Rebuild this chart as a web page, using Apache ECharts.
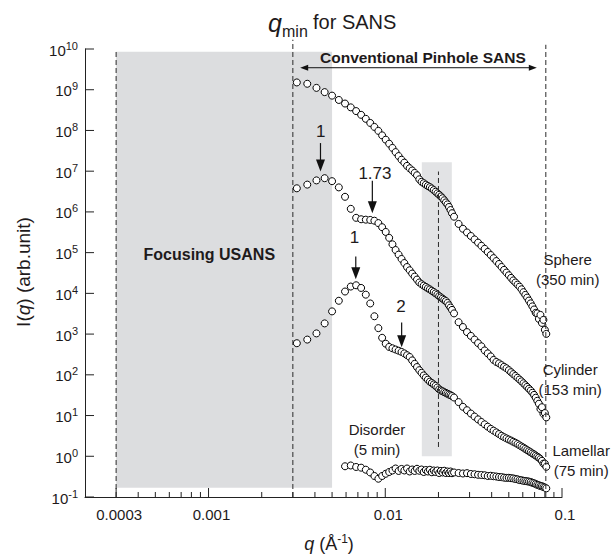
<!DOCTYPE html>
<html><head><meta charset="utf-8">
<script src="https://cdn.jsdelivr.net/npm/echarts@6/dist/echarts.min.js"></script>
<style>html,body{margin:0;padding:0;background:#fff}#c{width:612px;height:554px}</style>
</head><body><div id="c"></div>
<script>
// ---------- data (q in 1/Angstrom, I in arb. units) ----------
const qLow = [0.00316,0.00362,0.00408,0.00454,0.00500,0.00546,0.00592,0.00638,0.00684,0.00730,0.00776,0.00822,0.00868,0.00914,0.00960,0.01006,0.01052,0.01098,0.01144,0.01190,0.01236,0.01282,0.01328,0.01374,0.01420,0.01466,0.01512,0.01558,0.01604,0.01650,0.01696,0.01742,0.01788,0.01834,0.01880,0.01926,0.01972,0.02018,0.02064,0.02110,0.02156,0.02202,0.02248,0.02294,0.02340,0.02386];
const qHigh = [0.0245,0.0260,0.0275,0.0290,0.0305,0.0320,0.0335,0.0350,0.0365,0.0380,0.0395,0.0410,0.0425,0.0440,0.0455,0.0470,0.0485,0.0500,0.0515,0.0530,0.0545,0.0560,0.0575,0.0590,0.0605,0.0620,0.0635,0.0650,0.0665,0.0680,0.0695,0.0710,0.0725,0.0740,0.0755,0.0770,0.0785,0.0800,0.0815];

const sphereLow = [1.51e9,1.40e9,1.11e9,8.73e8,7.16e8,5.61e8,4.58e8,3.69e8,2.99e8,2.42e8,1.93e8,1.53e8,1.22e8,9.77e7,7.57e7,5.94e7,4.73e7,3.73e7,2.94e7,2.35e7,1.91e7,1.62e7,1.35e7,1.18e7,1.04e7,9.08e6,7.93e6,6.32e6,5.48e6,5.07e6,4.68e6,4.33e6,4.06e6,3.76e6,3.43e6,3.13e6,2.86e6,2.63e6,2.40e6,2.17e6,1.93e6,1.71e6,1.53e6,1.32e6,1.11e6,9.29e5];
const sphereHigh = [7.62e5,5.07e5,3.86e5,3.13e5,2.56e5,2.11e5,1.76e5,1.47e5,1.24e5,1.04e5,8.73e4,7.33e4,6.21e4,5.27e4,4.45e4,3.78e4,3.24e4,2.78e4,2.40e4,2.08e4,1.85e4,1.64e4,1.46e4,1.26e4,1.07e4,9.18e3,7.87e3,6.65e3,5.68e3,4.79e3,4.02e3,3.32e3,3.22e3,2.36e3,2.96e3,1.88e3,2.23e3,1.27e3,1.01e3];

const cylinderLow = [3.80e6,4.68e6,5.94e6,6.73e6,5.68e6,4.00e6,2.35e6,1.19e6,7.16e5,6.60e5,6.45e5,6.35e5,6.08e5,5.31e5,4.21e5,3.22e5,2.31e5,1.60e5,1.16e5,8.93e4,7.00e4,5.55e4,4.43e4,3.69e4,3.06e4,2.58e4,2.18e4,1.85e4,1.68e4,1.55e4,1.44e4,1.33e4,1.25e4,1.16e4,1.08e4,1.00e4,9.29e3,8.57e3,7.96e3,7.41e3,6.92e3,6.47e3,5.83e3,5.09e3,4.48e3,3.93e3];
const cylinderHigh = [3.22e3,1.96e3,1.49e3,1.12e3,9.02e2,7.33e2,6.01e2,5.01e2,3.97e2,3.36e2,2.83e2,2.32e2,2.07e2,1.91e2,1.73e2,1.58e2,1.45e2,1.30e2,1.16e2,1.04e2,94.0,84.7,76.6,69.2,62.1,55.8,50.4,45.5,41.1,36.3,32.1,27.4,23.0,19.5,14.5,16.0,11.0,11.5,9.0];

const lamellarLow = [5.97e2,7.33e2,1.04e3,1.83e3,3.61e3,6.58e3,1.11e4,1.47e4,1.58e4,1.36e4,9.29e3,5.65e3,2.74e3,1.40e3,8.11e2,5.81e2,4.84e2,4.48e2,4.18e2,3.91e2,3.65e2,3.36e2,3.03e2,2.74e2,2.26e2,1.86e2,1.55e2,1.30e2,1.12e2,96.6,85.7,76.2,68.1,62.8,58.1,53.6,48.8,44.0,41.3,39.5,37.6,35.9,34.3,32.8,31.6,30.1];
const lamellarHigh = [27.7,21.4,16.4,13.5,11.2,9.44,8.05,6.95,6.08,5.33,4.71,4.26,3.86,3.51,3.18,2.94,2.75,2.58,2.43,2.27,2.14,2.00,1.86,1.74,1.63,1.52,1.42,1.33,1.25,1.17,1.11,1.04,0.977,0.923,0.849,0.774,0.66,0.66,0.55];

const disorderLow = [null,null,null,null,null,null,0.568,0.594,0.546,0.525,0.468,0.400,0.328,0.281,0.328,0.372,0.411,0.448,0.501,0.436,0.488,0.448,0.501,0.423,0.473,0.436,0.493,0.441,0.473,0.411,0.460,0.423,0.466,0.405,0.448,0.411,0.448,0.388,0.436,0.400,0.441,0.388,0.423,0.388,0.423,0.384];
const disorderHigh = [0.400,0.388,0.378,0.385,0.367,0.362,0.351,0.347,0.342,0.328,0.332,0.324,0.318,0.310,0.308,0.299,0.294,0.296,0.290,0.286,0.277,0.272,0.261,0.258,0.250,0.247,0.243,0.239,0.233,0.223,0.217,0.208,0.199,0.194,0.186,0.184,0.176,0.171,0.163];

// axis ticks
const xMajorTicks = [0.0003, 0.001, 0.01, 0.1];
const xTickLabels = ['0.0003', '0.001', '0.01', '0.1'];
const xMinorTicks = [0.0004,0.0005,0.0006,0.0007,0.0008,0.0009,0.002,0.003,0.004,0.005,0.006,0.007,0.008,0.009,0.02,0.03,0.04,0.05,0.06,0.07,0.08,0.09];
const yTicks = [0.1,1,10,100,1e3,1e4,1e5,1e6,1e7,1e8,1e9,1e10];
const yTickExponents = ['-1','0','1','2','3','4','5','6','7','8','9','10'];

// annotations (data coordinates)
const usansBand = [0.0003, 0.005, 0.169, 8.6e9];      // q0, q1, I0, I1
const midBand = [0.0161, 0.0238, 1.0, 1.65e7];
const dashedLines = [[0.0003, 0.1, 8.6e9], [0.003, 0.1, 1.69e10], [0.081, 0.1, 1.27e10], [0.02, 1.69, 9.8e6]]; // q, Ibottom, Itop
const pinholeArrow = [0.0033, 0.072, 3.47e9];          // qLeft, qRight, I
const pinholeText = ['Conventional Pinhole SANS', 0.01633, 6.11e9];
const usansText = ['Focusing USANS', 0.00101, 9.08e4];
const peakArrows = [[0.0043, 4.9e7, 9.8e6], [0.00845, 5.8e6, 9.3e5], [0.00681, 8.0e4, 2.23e4], [0.01238, 1.92e3, 4.77e2]]; // q, Istart, Itip
const peakLabels = [['1', 0.00432, 9.3e7], ['1.73', 0.00874, 8.98e6], ['1', 0.00670, 2.31e5], ['2', 0.01227, 4.73e3]];
const sampleLabels = [['Sphere\n(350 min)', 0.1077, 3.78e4], ['Cylinder\n(153 min)', 0.1112, 74.9], ['Lamellar\n(75 min)', 0.1284, 0.789], ['Disorder\n(5 min)', 0.00898, 2.51]];

// ---------- chart ----------
const FONT = '"Liberation Sans", Arial, Helvetica, sans-serif';
const INK = '#1e1a1b';

function pairs(qs, vals) {
  const out = [];
  for (let k = 0; k < qs.length; k++) if (vals[k] != null) out.push([qs[k], vals[k]]);
  return out;
}
function scatter(name, low, high) {
  return {
    type: 'scatter', name: name, z: 2, silent: true,
    symbol: 'circle', symbolSize: 7,
    itemStyle: { color: '#ffffff', borderColor: '#000000', borderWidth: 1, opacity: 1 },
    data: pairs(qLow, low).concat(pairs(qHigh, high))
  };
}

function renderBands(params, api) {
  const kids = [];
  [usansBand, midBand].forEach(function (b, k) {
    const p0 = api.coord([b[0], b[3]]), p1 = api.coord([b[1], b[2]]);
    kids.push({ type: 'rect', shape: { x: p0[0], y: p0[1], width: p1[0] - p0[0], height: p1[1] - p0[1] },
      style: { fill: k === 0 ? '#dcdddf' : '#e2e3e5' } });
  });
  return { type: 'group', children: kids };
}

function renderMarks(params, api) {
  const c = function (q, i) { return api.coord([q, i]); };
  const kids = [];
  dashedLines.forEach(function (d) {
    const a = c(d[0], d[1]), b = c(d[0], d[2]);
    kids.push({ type: 'line', shape: { x1: a[0], y1: a[1], x2: b[0], y2: b[1] },
      style: { stroke: '#2a2a2a', lineWidth: 1, lineDash: [5, 3] } });
  });
  peakArrows.forEach(function (d) {
    const a = c(d[0], d[1]), b = c(d[0], d[2]);
    const head = 12, hw = 4.5;
    kids.push({ type: 'line', shape: { x1: a[0], y1: a[1], x2: b[0], y2: b[1] - head + 1 },
      style: { stroke: '#111', lineWidth: 1.2 } });
    kids.push({ type: 'polygon', shape: { points: [[b[0], b[1]], [b[0] - hw, b[1] - head], [b[0] + hw, b[1] - head]] },
      style: { fill: '#111' } });
  });
  // horizontal double arrow
  const L = c(pinholeArrow[0], pinholeArrow[2]), R = c(pinholeArrow[1], pinholeArrow[2]);
  kids.push({ type: 'line', shape: { x1: L[0] + 6, y1: L[1], x2: R[0] - 6, y2: R[1] }, style: { stroke: '#111', lineWidth: 1 } });
  kids.push({ type: 'polygon', shape: { points: [[L[0], L[1]], [L[0] + 8, L[1] - 3], [L[0] + 8, L[1] + 3]] }, style: { fill: '#111' } });
  kids.push({ type: 'polygon', shape: { points: [[R[0], R[1]], [R[0] - 8, R[1] - 3], [R[0] - 8, R[1] + 3]] }, style: { fill: '#111' } });
  // texts
  const pt = c(pinholeText[1], pinholeText[2]);
  kids.push({ type: 'text', x: pt[0], y: pt[1], style: { text: pinholeText[0], fill: INK, font: 'bold 15.5px ' + FONT, align: 'center', verticalAlign: 'middle' } });
  const ut = c(usansText[1], usansText[2]);
  kids.push({ type: 'text', x: ut[0], y: ut[1], style: { text: usansText[0], fill: INK, font: 'bold 16px ' + FONT, align: 'center', verticalAlign: 'middle' } });
  peakLabels.forEach(function (d) {
    const p = c(d[1], d[2]);
    kids.push({ type: 'text', x: p[0], y: p[1], style: { text: d[0], fill: INK, font: '17px ' + FONT, align: 'center', verticalAlign: 'middle' } });
  });
  sampleLabels.forEach(function (d) {
    const p = c(d[1], d[2]);
    kids.push({ type: 'text', x: p[0], y: p[1], style: { text: d[0], fill: INK, font: '15px ' + FONT, lineHeight: 20, align: 'center', verticalAlign: 'middle' } });
  });
  return { type: 'group', children: kids };
}

function renderAxes(params, api) {
  const kids = [];
  const ink = '#222';
  xMinorTicks.forEach(function (v) {
    const p = api.coord([v, 0.1]);
    kids.push({ type: 'line', shape: { x1: p[0], y1: p[1], x2: p[0], y2: p[1] - 5 }, style: { stroke: ink, lineWidth: 1 } });
  });
  xMajorTicks.forEach(function (v, k) {
    const p = api.coord([v, 0.1]);
    kids.push({ type: 'line', shape: { x1: p[0], y1: p[1], x2: p[0], y2: p[1] - 9 }, style: { stroke: ink, lineWidth: 1 } });
    kids.push({ type: 'text', x: p[0] + 3, y: p[1] + 17, style: { text: xTickLabels[k], fill: INK, font: '15px ' + FONT, align: 'center', verticalAlign: 'middle' } });
  });
  yTicks.forEach(function (v, k) {
    const p = api.coord([0.0002, v]);
    kids.push({ type: 'line', shape: { x1: p[0], y1: p[1], x2: p[0] + 9, y2: p[1] }, style: { stroke: ink, lineWidth: 1 } });
    kids.push({ type: 'text', x: p[0] - 7, y: p[1] + 1, style: {
      text: '{b|10}{s|' + yTickExponents[k] + '}', fill: INK, align: 'right', verticalAlign: 'middle',
      rich: { b: { fontSize: 15, fontFamily: FONT, fill: INK }, s: { fontSize: 11, fontFamily: FONT, fill: INK, padding: [0, 0, 9, 0] } } } });
  });
  return { type: 'group', children: kids };
}

const chart = echarts.init(document.getElementById('c'), null, { renderer: 'svg' });
chart.setOption({
  animation: false,
  backgroundColor: '#ffffff',
  grid: { left: 85, top: 49, width: 477, height: 448, containLabel: false },
  xAxis: { type: 'log', logBase: 10, min: 0.0002, max: 0.1,
    axisLine: { show: true, onZero: false, lineStyle: { color: '#222', width: 1 } },
    axisTick: { show: false }, axisLabel: { show: false }, splitLine: { show: false }, minorTick: { show: false } },
  yAxis: { type: 'log', logBase: 10, min: 0.1, max: 1e10,
    axisLine: { show: true, onZero: false, lineStyle: { color: '#222', width: 1 } },
    axisTick: { show: false }, axisLabel: { show: false }, splitLine: { show: false } },
  graphic: [
    { type: 'text', x: 268, y: 23, style: { text: 'q', font: 'italic 25px ' + FONT, fill: INK, align: 'left', verticalAlign: 'middle', textAlign: 'left', textVerticalAlign: 'middle' } },
    { type: 'text', x: 282, y: 31, style: { text: 'min', font: '16px ' + FONT, fill: INK, align: 'left', verticalAlign: 'middle', textAlign: 'left', textVerticalAlign: 'middle' } },
    { type: 'text', x: 313, y: 22, style: { text: 'for SANS', font: '20px ' + FONT, fill: INK, align: 'left', verticalAlign: 'middle', textAlign: 'left', textVerticalAlign: 'middle' } },
    { type: 'text', x: 23, y: 272, rotation: Math.PI / 2, style: {
        text: '{n|I(}{i|q}{n|) (arb.unit)}', align: 'center', verticalAlign: 'middle', textAlign: 'center', textVerticalAlign: 'middle',
        rich: { n: { fontSize: 19, fontFamily: FONT, fill: INK }, i: { fontSize: 19, fontFamily: FONT, fontStyle: 'italic', fill: INK } } } },
    { type: 'text', x: 329, y: 544, style: {
        text: '{i|q}{n| (Å}{s|-1}{n|)}', align: 'center', verticalAlign: 'middle', textAlign: 'center', textVerticalAlign: 'middle',
        rich: { n: { fontSize: 18, fontFamily: FONT, fill: INK }, i: { fontSize: 18, fontFamily: FONT, fontStyle: 'italic', fill: INK },
                s: { fontSize: 12, fontFamily: FONT, fill: INK, padding: [0, 0, 10, 0] } } } }
  ],
  series: [
    { type: 'custom', name: 'bands', z: 1, silent: true, clip: false, data: [[0.001, 1]], renderItem: renderBands },
    scatter('Sphere', sphereLow, sphereHigh),
    scatter('Cylinder', cylinderLow, cylinderHigh),
    scatter('Lamellar', lamellarLow, lamellarHigh),
    scatter('Disorder', disorderLow, disorderHigh),
    { type: 'custom', name: 'marks', z: 5, silent: true, clip: false, data: [[0.001, 1]], renderItem: renderMarks },
    { type: 'custom', name: 'axes', z: 6, silent: true, clip: false, data: [[0.001, 1]], renderItem: renderAxes }
  ]
});
</script>
</body></html>
